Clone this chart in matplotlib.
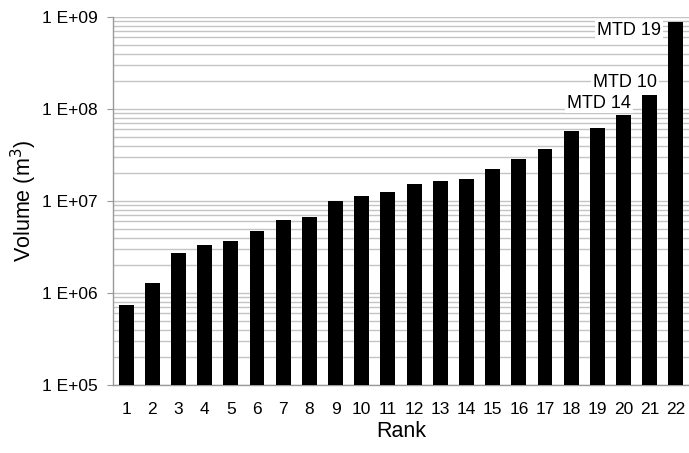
import numpy as np
import matplotlib.pyplot as plt
from matplotlib.ticker import FixedLocator, NullFormatter

# ── Data ──────────────────────────────────────────────────────────────────────
ranks = list(range(1, 23))
volumes = [7.4e5, 1.28e6, 2.7e6, 3.3e6, 3.7e6, 4.7e6, 6.2e6, 6.7e6,
           1.0e7, 1.13e7, 1.25e7, 1.53e7, 1.65e7, 1.74e7, 2.24e7, 2.87e7,
           3.67e7, 5.8e7, 6.2e7, 8.6e7, 1.42e8, 8.8e8]
y_ticks = [1e5, 1e6, 1e7, 1e8, 1e9]
y_ticklabels = ["1 E+05", "1 E+06", "1 E+07", "1 E+08", "1 E+09"]
# event labels: text, x (rank units), y (volume), horizontal alignment
labels = ["MTD 19", "MTD 10", "MTD 14"]
label_x = [21.43, 20.05, 19.06]
label_y = [7.2e8, 1.92e8, 1.16e8]
label_ha = ['right', 'center', 'center']

plt.rcParams['font.family'] = ['Liberation Sans', 'DejaVu Sans']

fig = plt.figure(figsize=(6.89, 4.53), dpi=100)
ax = fig.add_axes([0.164, 0.150, 0.836, 0.8125])

ax.bar(ranks, volumes, width=0.57, color='black', zorder=3)

ax.set_yscale('log')
ax.set_ylim(1e5, 1e9)
ax.set_xlim(0.5, 22.5)

ax.yaxis.set_major_locator(FixedLocator(y_ticks))
ax.set_yticklabels(y_ticklabels, fontsize=12.5)
minors = [m * 10 ** e for e in range(5, 9) for m in range(2, 10)]
ax.yaxis.set_minor_locator(FixedLocator(minors))
ax.yaxis.set_minor_formatter(NullFormatter())
ax.tick_params(axis='y', which='major', length=4, color='#999999', pad=7)
ax.tick_params(axis='y', which='minor', length=0)
ax.set_xticks(ranks)
ax.set_xticklabels([str(r) for r in ranks], fontsize=12.5)
ax.tick_params(axis='x', length=0, pad=12)

ax.grid(True, axis='y', which='both', color='#c4c4c4', lw=1.0, zorder=0)

for s in ['top', 'right']:
    ax.spines[s].set_visible(False)
for s in ['left', 'bottom']:
    ax.spines[s].set_color('#999999')
    ax.spines[s].set_linewidth(1.0)

ax.set_ylabel("Volume (m$^3$)", fontsize=15.5, labelpad=2)
ax.set_xlabel("Rank", fontsize=15.5, labelpad=3)

# labels on the three biggest events
box = dict(boxstyle='square,pad=0.1', fc='white', ec='none')
for txt, x, y, ha in zip(labels, label_x, label_y, label_ha):
    ax.text(x, y, txt, ha=ha, va='center', fontsize=13, bbox=box, zorder=4)

plt.savefig("out.png", dpi=100)
plt.close()
